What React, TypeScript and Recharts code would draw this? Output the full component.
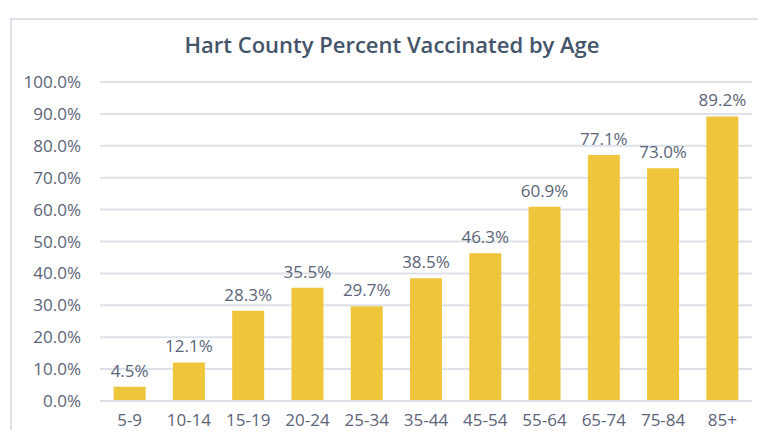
import { BarChart, Bar, XAxis, YAxis, CartesianGrid, LabelList } from 'recharts'

const ageGroups = ['5-9', '10-14', '15-19', '20-24', '25-34', '35-44', '45-54', '55-64', '65-74', '75-84', '85+']
const percentVaccinated = [4.5, 12.1, 28.3, 35.5, 29.7, 38.5, 46.3, 60.9, 77.1, 73.0, 89.2]
const yTicks = [0, 10, 20, 30, 40, 50, 60, 70, 80, 90, 100]

const data = ageGroups.map((age, i) => ({ age, pct: percentVaccinated[i] }))

const fmt = (v: number) => `${v.toFixed(1)}%`

const textColor = '#5b6478'
const font = '"Open Sans", sans-serif'

export default function App() {
  return (
    <div
      style={{
        width: 766,
        height: 438,
        margin: -8,
        position: 'relative',
        overflow: 'hidden',
        background: '#fff',
        fontFamily: font,
      }}
    >
      <div
        style={{
          position: 'absolute',
          left: 10,
          top: 18,
          width: 800,
          height: 500,
          borderLeft: '2px solid #dce1e8',
          borderTop: '2px solid #dce1e8',
        }}
      />
      <div
        style={{
          position: 'absolute',
          left: 0,
          top: 29,
          width: 784,
          textAlign: 'center',
          fontSize: 22,
          fontWeight: 600,
          color: '#44546a',
        }}
      >
        Hart County Percent Vaccinated by Age
      </div>
      <div style={{ position: 'absolute', left: 0, top: 0 }}>
        <BarChart
          width={766}
          height={438}
          data={data}
          margin={{ top: 82, right: 14, bottom: 7, left: 0 }}
          barCategoryGap="23%"
        >
          <CartesianGrid vertical={false} stroke="#dde2e9" strokeWidth={2} />
          <XAxis
            dataKey="age"
            height={30}
            tickLine={false}
            axisLine={{ stroke: '#dde2e9', strokeWidth: 2 }}
            tickMargin={7}
            tick={{ fill: textColor, fontSize: 17, fontFamily: font }}
            interval={0}
          />
          <YAxis
            width={100}
            domain={[0, 100]}
            ticks={yTicks}
            tickFormatter={fmt}
            tickLine={false}
            axisLine={false}
            tickMargin={13}
            tick={{ fill: textColor, fontSize: 17, fontFamily: font }}
          />
          <Bar dataKey="pct" fill="#efc53b" isAnimationActive={false}>
            <LabelList
              dataKey="pct"
              position="top"
              offset={10}
              formatter={(v: number) => fmt(v)}
              fill={textColor}
              fontSize={17}
              fontFamily={font}
            />
          </Bar>
        </BarChart>
      </div>
    </div>
  )
}
